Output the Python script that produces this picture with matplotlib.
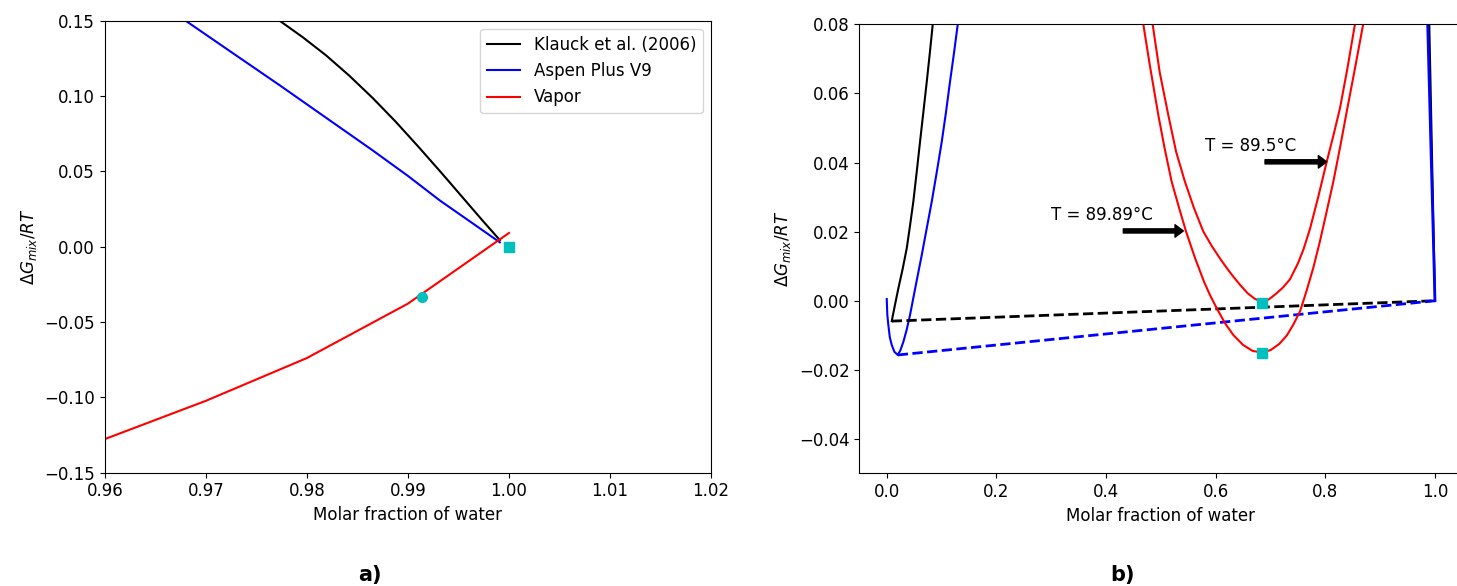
import numpy as np
from matplotlib import pyplot as plt

# ---- panel a) zoom near pure water ----
klauck_a_x = [0.9773, 0.9796, 0.9819, 0.9842, 0.9865, 0.9888, 0.9911, 0.9934, 0.9957, 0.9975, 0.9991]
klauck_a_y = [0.150, 0.1390, 0.1270, 0.1135, 0.0988, 0.0829, 0.0659, 0.0484, 0.0305, 0.0165, 0.0044]
aspen_a_x = [0.9680, 0.9726, 0.9773, 0.9819, 0.9865, 0.9900, 0.9932, 0.9962, 0.9991]
aspen_a_y = [0.150, 0.1288, 0.1072, 0.0856, 0.0640, 0.0470, 0.0305, 0.0165, 0.0029]
vapor_a_x = [0.960, 0.970, 0.980, 0.990, 1.000]
vapor_a_y = [-0.1277, -0.1023, -0.0739, -0.0378, 0.0091]
circle_a = (0.9914, -0.0337)
square_a = (1.0, 0.0)

# ---- panel b) whole composition range ----
klauck_left_x = [0.0091, 0.0150, 0.0212, 0.0290, 0.0365, 0.0425, 0.0485, 0.0546,
                 0.0607, 0.0668, 0.0730, 0.0785, 0.0839]
klauck_left_y = [-0.0059, -0.0012, 0.0036, 0.0092, 0.0152, 0.0218, 0.0287, 0.0372,
                 0.0460, 0.0546, 0.0634, 0.0716, 0.080]
klauck_right_x = [0.9896, 1.0]
klauck_right_y = [0.080, 0.0]
aspen_left_x = [0.0, 0.0010, 0.0029, 0.0055, 0.0091, 0.0140, 0.0201, 0.0250, 0.0303, 0.0365,
                0.0425, 0.0530, 0.0638, 0.0730, 0.0821, 0.0912, 0.1003, 0.1080, 0.1154, 0.1225, 0.1295]
aspen_left_y = [0.0005, -0.0040, -0.0070, -0.0105, -0.0128, -0.0148, -0.0157, -0.0143, -0.0119, -0.0083,
                -0.0041, 0.0045, 0.0132, 0.0210, 0.0287, 0.0372, 0.0460, 0.0545, 0.0634, 0.0715, 0.080]
aspen_right_x = [0.9867, 1.0]
aspen_right_y = [0.080, 0.0]
klauck_tie_x = [0.0091, 1.0]
klauck_tie_y = [-0.0059, 0.0]
aspen_tie_x = [0.0201, 1.0]
aspen_tie_y = [-0.0157, 0.0]

# vapor curve at T = 89.5 C
vap895_x = [0.485, 0.498, 0.5136, 0.528, 0.544, 0.560, 0.5775, 0.593, 0.608, 0.620, 0.632, 0.645,
            0.658, 0.671, 0.684, 0.697, 0.710, 0.7225, 0.7355, 0.750, 0.760, 0.772, 0.787, 0.8025,
            0.815, 0.8267, 0.840, 0.854]
vap895_y = [0.080, 0.066, 0.0537, 0.043, 0.0344, 0.027, 0.020, 0.0158, 0.0122, 0.0095, 0.0070, 0.0045,
            0.0022, 0.0006, -0.0004, 0.0004, 0.0020, 0.0038, 0.0062, 0.0108, 0.0148, 0.0208, 0.0300, 0.0402,
            0.0480, 0.0557, 0.0670, 0.080]
# vapor curve at T = 89.89 C
vap8989_x = [0.468, 0.480, 0.4954, 0.507, 0.5198, 0.533, 0.546, 0.562, 0.5787, 0.590, 0.602, 0.617,
             0.632, 0.650, 0.667, 0.684, 0.700, 0.716, 0.730, 0.742, 0.754, 0.766, 0.778, 0.790,
             0.802, 0.8145, 0.827, 0.839, 0.854, 0.869]
vap8989_y = [0.080, 0.068, 0.0537, 0.044, 0.0344, 0.027, 0.020, 0.0125, 0.0055, 0.0015, -0.0022, -0.0065,
             -0.0099, -0.0128, -0.0145, -0.0150, -0.0143, -0.0125, -0.0100, -0.0068, -0.0030, 0.0030, 0.0095, 0.0171,
             0.0255, 0.0344, 0.0445, 0.0547, 0.0672, 0.080]
squares_b_x = [0.684, 0.684]
squares_b_y = [-0.0006, -0.0150]

plt.rcParams['font.size'] = 12

fig = plt.figure(figsize=(14.57, 5.86), dpi=100)
ax1 = fig.add_axes([0.0719, 0.1933, 0.4161, 0.7714])
ax2 = fig.add_axes([0.5898, 0.1920, 0.4139, 0.7665])

# a)
ax1.plot(klauck_a_x, klauck_a_y, color='black', lw=1.5, label='Klauck et al. (2006)')
ax1.plot(aspen_a_x, aspen_a_y, color='blue', lw=1.5, label='Aspen Plus V9')
ax1.plot(vapor_a_x, vapor_a_y, color='red', lw=1.5, label='Vapor')
ax1.plot(*circle_a, 'o', color='c', markersize=7)
ax1.plot(*square_a, 's', color='c', markersize=7)
ax1.set_xlim(0.96, 1.02)
ax1.set_ylim(-0.15, 0.15)
ax1.set_xlabel('Molar fraction of water')
ax1.set_ylabel(r'$\Delta G_{mix}/RT$')
ax1.legend(loc='upper right')

# b)
ax2.plot(klauck_left_x, klauck_left_y, color='black', lw=1.5)
ax2.plot(klauck_right_x, klauck_right_y, color='black', lw=1.5)
ax2.plot(aspen_left_x, aspen_left_y, color='blue', lw=1.5)
ax2.plot(aspen_right_x, aspen_right_y, color='blue', lw=2)
ax2.plot(klauck_tie_x, klauck_tie_y, '--', color='black', lw=2)
ax2.plot(aspen_tie_x, aspen_tie_y, '--', color='blue', lw=2)
ax2.plot(vap895_x, vap895_y, color='red', lw=1.5)
ax2.plot(vap8989_x, vap8989_y, color='red', lw=1.5)
ax2.plot(squares_b_x, squares_b_y, 's', color='c', markersize=7)
ax2.set_xlim(-0.05, 1.05)
ax2.set_ylim(-0.05, 0.08)
ax2.set_yticks([-0.04, -0.02, 0.0, 0.02, 0.04, 0.06, 0.08])
ax2.set_xlabel('Molar fraction of water')
ax2.set_ylabel(r'$\Delta G_{mix}/RT$')

arrow = dict(facecolor='black', edgecolor='black', width=3, headwidth=9, headlength=6, shrink=0)
ax2.annotate('', xy=(0.541, 0.0202), xytext=(0.4315, 0.0202), arrowprops=arrow)
ax2.annotate('', xy=(0.8025, 0.0402), xytext=(0.690, 0.0402), arrowprops=arrow)
ax2.text(0.30, 0.0248, 'T = 89.89°C', va='center', ha='left')
ax2.text(0.5805, 0.0449, 'T = 89.5°C', va='center', ha='left')

fig.text(370 / 1457, 1 - 575 / 586, 'a)', ha='center', va='center', fontsize=15, fontweight='bold')
fig.text(1122 / 1457, 1 - 575 / 586, 'b)', ha='center', va='center', fontsize=15, fontweight='bold')

plt.savefig('out.png', dpi=100)
